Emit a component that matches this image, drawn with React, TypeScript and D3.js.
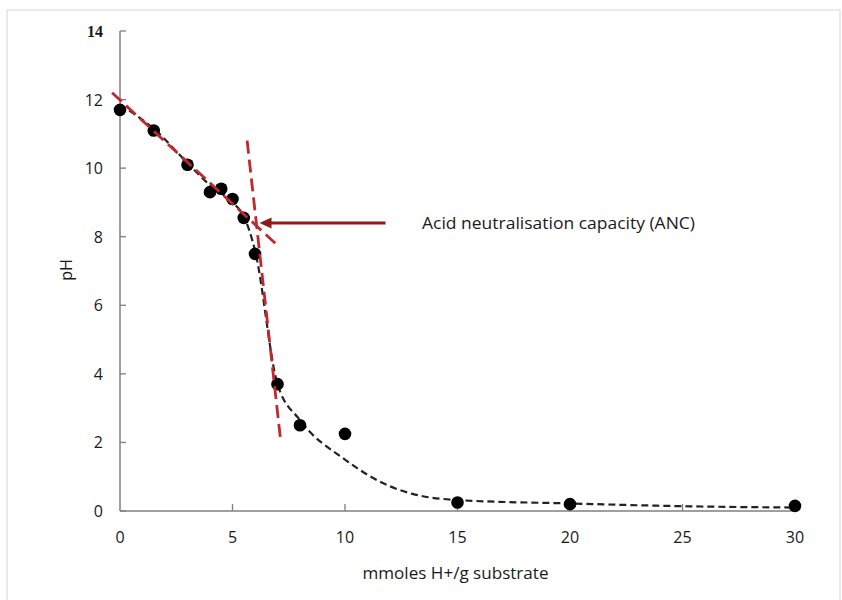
import React from "react";
import * as d3 from "d3";

// Measured data points
const acidAdded = [0, 1.5, 3, 4, 4.5, 5, 5.5, 6, 7, 8, 10, 15, 20, 30];
const pHValues = [11.7, 11.1, 10.1, 9.3, 9.4, 9.1, 8.55, 7.5, 3.7, 2.5, 2.25, 0.25, 0.2, 0.15];

// Trend (black dashed) curve
const trendX = [0, 1.5, 3, 4, 5, 5.5, 6, 7, 8, 10, 12, 13, 15, 20, 25, 30];
const trendY = [11.85, 11.15, 10.15, 9.5, 9.0, 8.6, 7.6, 3.7, 2.65, 1.5, 0.72, 0.5, 0.32, 0.22, 0.14, 0.1];

// Red tangent lines
const tangent1X = [-0.35, 7.0];
const tangent1Y = [12.2, 7.75];
const tangent2X = [5.65, 7.15];
const tangent2Y = [10.8, 2.0];

// Annotation arrow
const arrowX = [11.8, 6.2];
const arrowY = [8.4, 8.4];
const annotationLabel = "Acid neutralisation capacity (ANC)";

const xTicks = [0, 5, 10, 15, 20, 25, 30];
const yTicks = [0, 2, 4, 6, 8, 10, 12, 14];
const xTitle = "mmoles H+/g substrate";
const yTitle = "pH";

export default function App() {
  const W = 842;
  const H = 600;
  const x = d3.scaleLinear().domain([0, 30]).range([120, 795]);
  const y = d3.scaleLinear().domain([0, 14]).range([511, 31]);
  const font = "'Open Sans', sans-serif";
  const axisColor = "#7f7f7f";
  const textColor = "#1a1a1a";

  const line = d3
    .line<[number, number]>()
    .x((d) => x(d[0]))
    .y((d) => y(d[1]));
  const smooth = d3
    .line<[number, number]>()
    .x((d) => x(d[0]))
    .y((d) => y(d[1]))
    .curve(d3.curveMonotoneX);

  const trend: [number, number][] = trendX.map((v, i) => [v, trendY[i]]);
  const t1: [number, number][] = tangent1X.map((v, i) => [v, tangent1Y[i]]);
  const t2: [number, number][] = tangent2X.map((v, i) => [v, tangent2Y[i]]);

  const ax0 = x(arrowX[0]);
  const ax1 = x(arrowX[1]);
  const ay = y(arrowY[0]);
  const headLen = 12;
  const headHalf = 5.5;

  return (
    <svg
      width={W}
      height={H}
      style={{ position: "absolute", left: 0, top: 0, background: "#fff" }}
    >
      <rect x={0} y={0} width={W} height={H} fill="#fff" />
      <rect x={7} y={10} width={833} height={600} fill="none" stroke="#dcdcdc" strokeWidth={1.2} />

      {/* axes */}
      <line x1={x(0)} y1={y(0)} x2={x(0)} y2={y(14)} stroke={axisColor} strokeWidth={1.5} />
      <line x1={x(0)} y1={y(0)} x2={x(30)} y2={y(0)} stroke={axisColor} strokeWidth={1.5} />
      {yTicks.map((t) => (
        <g key={"y" + t}>
          <line x1={x(0)} x2={x(0) + 6} y1={y(t)} y2={y(t)} stroke={axisColor} strokeWidth={1.3} />
          <text
            x={103}
            y={y(t)}
            textAnchor="end"
            dominantBaseline="central"
            fontFamily={t === 14 ? "'Liberation Serif', serif" : font}
            fontWeight={t === 14 ? "bold" : "normal"}
            fontSize={16}
            fill={textColor}
          >
            {t}
          </text>
        </g>
      ))}
      {xTicks.map((t) => (
        <g key={"x" + t}>
          {t !== 0 && (
            <line x1={x(t)} x2={x(t)} y1={y(0)} y2={y(0) - 7} stroke={axisColor} strokeWidth={1.3} />
          )}
          <text
            x={x(t)}
            y={537}
            textAnchor="middle"
            dominantBaseline="central"
            fontFamily={font}
            fontSize={16}
            fill={textColor}
          >
            {t}
          </text>
        </g>
      ))}
      <text
        x={x(15) - 2}
        y={573}
        textAnchor="middle"
        dominantBaseline="central"
        fontFamily={font}
        fontSize={16}
        textLength={186}
        lengthAdjust="spacingAndGlyphs"
        fill={textColor}
      >
        {xTitle}
      </text>
      <text
        transform={`translate(66,270) rotate(-90)`}
        textAnchor="middle"
        dominantBaseline="central"
        fontFamily={font}
        fontSize={16}
        fill={textColor}
      >
        {yTitle}
      </text>

      {/* trend curve */}
      <path
        d={smooth(trend) || ""}
        fill="none"
        stroke="#222"
        strokeWidth={2.2}
        strokeDasharray="7 4"
      />

      {/* data points */}
      {acidAdded.map((v, i) => (
        <circle key={"p" + i} cx={x(v)} cy={y(pHValues[i])} r={6.3} fill="#000" />
      ))}

      {/* tangents */}
      <path d={line(t1) || ""} fill="none" stroke="#c0282d" strokeWidth={2.8} strokeDasharray="13 6" />
      <path d={line(t2) || ""} fill="none" stroke="#c0282d" strokeWidth={2.8} strokeDasharray="13 6" />

      {/* arrow */}
      <line x1={ax0} y1={ay} x2={ax1 + headLen - 1} y2={ay} stroke="#8e1b1b" strokeWidth={3} />
      <polygon
        points={`${ax1},${ay} ${ax1 + headLen},${ay - headHalf} ${ax1 + headLen},${ay + headHalf}`}
        fill="#8e1b1b"
      />
      <text
        x={422}
        y={ay}
        dominantBaseline="central"
        fontFamily={font}
        fontSize={16}
        textLength={273}
        lengthAdjust="spacingAndGlyphs"
        fill={textColor}
      >
        {annotationLabel}
      </text>
    </svg>
  );
}
